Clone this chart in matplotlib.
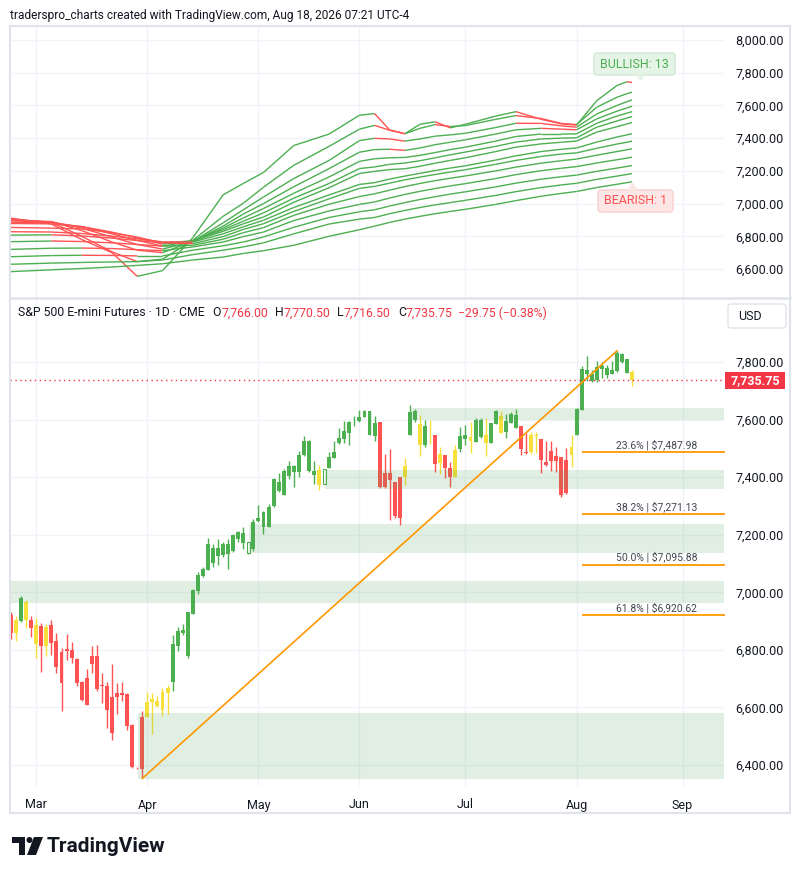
import matplotlib.pyplot as plt
import numpy as np
from matplotlib.collections import LineCollection
from matplotlib.patches import FancyBboxPatch, Polygon, Rectangle, Circle

plt.rcParams['font.family'] = ['Roboto', 'DejaVu Sans']

W, H = 800, 875
GREEN = '#4caf50'
RED = '#ff5252'
YELLOW = '#f7e03b'
TXT = '#131722'
GRID = '#f0f3fa'
TVRED = '#f23645'
ORANGE = '#ff9800'

# daily bars, Feb 23 .. Aug 18 2026 (bar index 0..123)
opens = [6922, 6858, 6899, 6965, 6903, 6887, 6883, 6814, 6885, 6829,
         6794, 6803, 6798, 6769, 6690, 6701, 6777, 6778, 6678, 6676,
         6635, 6649, 6649, 6646, 6539, 6390, 6568, 6565, 6618, 6605,
         6591, 6649, 6688, 6814, 6858, 6777, 6925, 7005, 7058, 7079,
         7102, 7125, 7128, 7133, 7142, 7186, 7171, 7136, 7152, 7249,
         7226, 7227, 7299, 7353, 7339, 7405, 7417, 7418, 7476, 7421,
         7409, 7426, 7377, 7432, 7467, 7519, 7534, 7554, 7590, 7594,
         7609, 7548, 7542, 7592, 7415, 7415, 7383, 7401, 7400, 7545,
         7600, 7585, 7511, 7548, 7545, 7450, 7478, 7430, 7400, 7496,
         7533, 7540, 7523, 7540, 7548, 7517, 7585, 7612, 7557, 7589,
         7569, 7577, 7488, 7488, 7546, 7534, 7453, 7490, 7473, 7469,
         7460, 7476, 7548, 7633, 7757, 7734, 7736, 7774, 7754, 7757,
         7768, 7801, 7763, 7766]
highs = [6933, 6919, 6988, 6972, 6916, 6912, 6892, 6890, 6904, 6858,
         6806, 6855, 6827, 6773, 6692, 6733, 6813, 6816, 6721, 6688,
         6750, 6684, 6688, 6649, 6541, 6392, 6586, 6655, 6649, 6641,
         6667, 6678, 6850, 6878, 6889, 6931, 7011, 7069, 7088, 7189,
         7166, 7185, 7174, 7185, 7204, 7214, 7227, 7175, 7255, 7302,
         7281, 7307, 7397, 7415, 7429, 7455, 7441, 7490, 7542, 7528,
         7455, 7441, 7429, 7488, 7525, 7571, 7594, 7594, 7612, 7633,
         7634, 7630, 7612, 7592, 7481, 7496, 7383, 7401, 7465, 7651,
         7638, 7615, 7598, 7600, 7548, 7505, 7478, 7452, 7510, 7573,
         7582, 7592, 7606, 7606, 7606, 7589, 7632, 7629, 7618, 7627,
         7635, 7577, 7554, 7556, 7556, 7534, 7525, 7527, 7504, 7469,
         7502, 7545, 7641, 7786, 7820, 7772, 7803, 7801, 7789, 7803,
         7838.5, 7832, 7812, 7770.5]
lows = [6837, 6831, 6896, 6875, 6844, 6771, 6722, 6779, 6783, 6719,
        6588, 6765, 6755, 6675, 6624, 6607, 6719, 6657, 6615, 6530,
        6487, 6576, 6623, 6522, 6391, 6386, 6353.25, 6565, 6508, 6603,
        6571, 6577, 6657, 6797, 6850, 6771, 6925, 6995, 7052, 7079,
        7088, 7096, 7123, 7082, 7140, 7175, 7152, 7133, 7142, 7244,
        7204, 7227, 7295, 7349, 7339, 7394, 7366, 7401, 7473, 7418,
        7377, 7357, 7377, 7432, 7467, 7516, 7517, 7511, 7577, 7591,
        7609, 7546, 7527, 7363, 7363, 7252, 7258, 7235, 7371, 7545,
        7590, 7475, 7505, 7516, 7418, 7412, 7397, 7364, 7400, 7486,
        7511, 7485, 7523, 7535, 7473, 7517, 7585, 7552, 7537, 7589,
        7569, 7476, 7481, 7479, 7484, 7415, 7438, 7421, 7418, 7330,
        7340, 7436, 7546, 7633, 7734, 7731, 7730, 7745, 7745, 7757,
        7765, 7797, 7763, 7716.5]
closes = [6858, 6904, 6980, 6904, 6875, 6820, 6814, 6881, 6823, 6740,
          6684, 6797, 6771, 6684, 6626, 6609, 6750, 6663, 6675, 6591,
          6510, 6635, 6644, 6536, 6394, 6388, 6386, 6620, 6628, 6624,
          6652, 6667, 6820, 6866, 6870, 6931, 7007, 7061, 7081, 7168,
          7154, 7154, 7168, 7166, 7200, 7210, 7206, 7175, 7244, 7258,
          7279, 7295, 7392, 7383, 7423, 7438, 7438, 7476, 7525, 7525,
          7423, 7374, 7429, 7469, 7488, 7536, 7560, 7591, 7593, 7609,
          7630, 7630, 7589, 7366, 7366, 7390, 7266, 7258, 7438, 7627,
          7629, 7510, 7579, 7545, 7447, 7481, 7432, 7400, 7494, 7542,
          7546, 7524, 7600, 7600, 7517, 7589, 7629, 7554, 7594, 7620,
          7615, 7496, 7485, 7545, 7542, 7459, 7441, 7455, 7455, 7339,
          7345, 7505, 7635, 7774, 7772, 7759, 7782, 7786, 7778, 7771,
          7832, 7829, 7809, 7735.75]
# candle colour from the chart's indicator: g green, r red, y yellow, h hollow green
kinds = ("rygyryry" + "r" * 19 + "y" * 5 + "g" * 15 + "h" + "g" * 13 + "y" + "h"
         + "g" * 10 + "r" * 5 + "yggygyryrryggyggyggyggg" + "rryy" + "r" * 6 + "y"
         + "g" * 11 + "y")

month_idx = [5, 27, 49, 69, 90, 112, 133]
month_labels = ['Mar', 'Apr', 'May', 'Jun', 'Jul', 'Aug', 'Sep']

# shaded zones: (first bar, low, high)
zones = [(79.4, 7598, 7640), (62.2, 7360, 7425), (47.2, 7137, 7238),
         (-1, 6962, 7040), (25.2, 6350, 6582)]

swing_low = (26, 6353.25)
swing_high = (120, 7838.5)
fib_ratios = ['23.6%', '38.2%', '50.0%', '61.8%']
fib_prices = [7487.98, 7271.13, 7095.88, 6920.62]
last_price = 7735.75

# moving-average ribbon (upper pane), read at these bars
ribbon_x = [0, 8, 14, 20, 25, 30, 36, 42, 46, 50, 56, 63, 69, 72, 75, 78, 81, 84,
            87, 90, 96, 100, 105, 109, 112, 116, 120, 122, 123]
ribbon = [
    [6911, 6875, 6780, 6700, 6555, 6590, 6791, 7053, 7123, 7190, 7355, 7425, 7540, 7550, 7450,
     7427, 7485, 7500, 7463, 7485, 7535, 7562, 7515, 7487, 7480, 7629, 7722, 7745, 7740],
    [6905, 6885, 6800, 6705, 6645, 6660, 6775, 6922, 7002, 7100, 7234, 7350, 7455, 7478, 7448,
     7427, 7460, 7483, 7471, 7477, 7515, 7538, 7520, 7490, 7483, 7589, 7650, 7672, 7681],
    [6900, 6890, 6835, 6765, 6715, 6700, 6768, 6882, 6962, 7040, 7153, 7264, 7385, 7399, 7395,
     7382, 7395, 7412, 7420, 7430, 7465, 7491, 7490, 7475, 7467, 7548, 7600, 7623, 7634],
    [6894, 6888, 6850, 6795, 6750, 6722, 6768, 6862, 6936, 7000, 7103, 7214, 7314, 7330, 7332,
     7325, 7340, 7360, 7375, 7390, 7425, 7451, 7460, 7455, 7451, 7518, 7565, 7585, 7595],
    [6886, 6884, 6858, 6815, 6775, 6740, 6770, 6850, 6912, 6970, 7063, 7163, 7258, 7274, 7280,
     7282, 7295, 7312, 7330, 7345, 7382, 7410, 7425, 7425, 7426, 7491, 7535, 7553, 7562],
    [6878, 6876, 6860, 6825, 6790, 6752, 6772, 6840, 6892, 6943, 7033, 7123, 7214, 7224, 7240,
     7248, 7262, 7280, 7298, 7315, 7350, 7376, 7395, 7400, 7402, 7467, 7505, 7523, 7532],
    [6854, 6850, 6845, 6822, 6795, 6760, 6772, 6830, 6876, 6918, 7008, 7097, 7184, 7197, 7208,
     7213, 7228, 7247, 7264, 7280, 7318, 7345, 7365, 7375, 7382, 7437, 7470, 7487, 7495],
    [6828, 6826, 6817, 6801, 6784, 6766, 6765, 6815, 6858, 6898, 6976, 7053, 7117, 7128, 7150,
     7168, 7185, 7202, 7217, 7231, 7266, 7292, 7318, 7332, 7340, 7376, 7407, 7420, 7427],
    [6807, 6809, 6802, 6789, 6774, 6760, 6755, 6798, 6842, 6877, 6952, 7029, 7093, 7105, 7125,
     7145, 7162, 7178, 7193, 7207, 7240, 7264, 7288, 7303, 7310, 7338, 7364, 7375, 7382],
    [6767, 6771, 6768, 6760, 6750, 6740, 6745, 6782, 6822, 6853, 6928, 6996, 7043, 7060, 7082,
     7104, 7123, 7140, 7155, 7169, 7200, 7223, 7247, 7262, 7272, 7296, 7318, 7329, 7335],
    [6720, 6727, 6728, 6725, 6718, 6712, 6735, 6765, 6798, 6826, 6896, 6955, 6995, 7010, 7034,
     7056, 7075, 7092, 7108, 7122, 7153, 7177, 7201, 7216, 7226, 7248, 7268, 7278, 7284],
    [6675, 6682, 6684, 6683, 6680, 6680, 6715, 6742, 6765, 6796, 6855, 6915, 6950, 6962, 6985,
     7006, 7025, 7042, 7058, 7072, 7102, 7125, 7149, 7164, 7174, 7197, 7217, 7227, 7232],
    [6629, 6636, 6640, 6643, 6645, 6655, 6688, 6715, 6735, 6760, 6815, 6875, 6905, 6915, 6938,
     6958, 6976, 6992, 7006, 7020, 7050, 7073, 7098, 7114, 7124, 7148, 7168, 7178, 7183],
    [6584, 6595, 6603, 6612, 6622, 6632, 6655, 6673, 6695, 6712, 6745, 6800, 6840, 6862, 6885,
     6905, 6922, 6938, 6952, 6965, 6995, 7018, 7045, 7062, 7074, 7098, 7118, 7128, 7133],
]


def box(l, t, r, b):
    return [l / W, 1 - b / H, (r - l) / W, (b - t) / H]


fig = plt.figure(figsize=(W / 100, H / 100), dpi=100)
fig.patch.set_facecolor('white')

ax_top = fig.add_axes(box(10, 27, 724, 297))
ax = fig.add_axes(box(10, 298, 724, 786))

for a, yt in ((ax_top, np.arange(6600, 8001, 200)), (ax, np.arange(6400, 7801, 200))):
    a.set_xlim(-0.2, 141.2)
    for s in a.spines.values():
        s.set_visible(False)
    for m in month_idx:
        a.axvline(m, color=GRID, lw=1, zorder=0)
    for p in yt:
        a.axhline(p, color=GRID, lw=1, zorder=0)
    a.yaxis.tick_right()
    a.set_yticks(yt)
    a.set_yticklabels([f'{p:,.2f}' for p in yt])
    a.tick_params(axis='y', length=0, pad=8, labelsize=9, labelcolor=TXT)

ax_top.set_ylim(6428.8, 8079.5)
ax.set_ylim(6327.0, 8022.3)
ax_top.set_xticks([])
ax.set_xticks(month_idx)
ax.set_xticklabels(month_labels)
ax.tick_params(axis='x', length=0, pad=9, labelsize=9, labelcolor=TXT)

# ribbon
for vals in ribbon:
    pts = np.column_stack([ribbon_x, vals])
    segs = np.stack([pts[:-1], pts[1:]], axis=1)
    cols = [GREEN if b >= a else RED for a, b in zip(vals[:-1], vals[1:])]
    ax_top.add_collection(LineCollection(segs, colors=cols, linewidths=1.0, zorder=3))

# candles
cmap = {'g': GREEN, 'r': RED, 'y': YELLOW, 'h': GREEN}
idx = np.arange(len(closes))
o, c = np.array(opens), np.array(closes)
colors = [cmap[k] for k in kinds]
ax.vlines(idx, lows, highs, colors=colors, lw=1.0, zorder=2)
bottoms = np.minimum(o, c)
heights = np.maximum(np.abs(c - o), 3)
for i in idx:
    if kinds[i] == 'h':
        ax.bar(i, heights[i], bottom=bottoms[i], width=0.62, facecolor='white',
               edgecolor=GREEN, lw=0.8, zorder=2.5)
    else:
        ax.bar(i, heights[i], bottom=bottoms[i], width=0.78, color=colors[i],
               lw=0, zorder=2.5)

# zones on top of candles
for start, lo, hi in zones:
    ax.add_patch(Rectangle((start, lo), 150, hi - lo, facecolor='#4a9e50',
                           alpha=0.16, lw=0, zorder=3))

# swing line and fib levels
ax.plot([swing_low[0], swing_high[0]], [swing_low[1], swing_high[1]],
        color=ORANGE, lw=1.2, zorder=4)
for r, p in zip(fib_ratios, fib_prices):
    ax.plot([113.2, 141.2], [p, p], color=ORANGE, lw=1.3, zorder=4, clip_on=False)
    ax.annotate(f'{r} | ${p:,.2f}', (135.9, p), xytext=(0, 1.5), textcoords='offset points',
                ha='right', va='bottom', fontsize=7.5, color='#434651', zorder=5)

ax.axhline(last_price, color=TVRED, lw=1, ls=(0, (1, 2.5)), zorder=4)

# overlay in pixel coordinates for the chart chrome
ov = fig.add_axes([0, 0, 1, 1], zorder=10)
ov.set_xlim(0, W)
ov.set_ylim(H, 0)
ov.axis('off')
ov.patch.set_alpha(0)

ov.add_patch(Rectangle((10, 26), 780, 787, fill=False, edgecolor='#e0e3eb', lw=1.5))
ov.plot([10, 790], [297.5, 297.5], color='#e0e3eb', lw=1.8)

fig.text(10 / W, 1 - 15 / H,
         'traderspro_charts created with TradingView.com, Aug 18, 2026 07:21 UTC-4',
         fontsize=8.6, color=TXT, va='center', ha='left')

# legend line of the price pane
renderer = fig.canvas.get_renderer()
parts = [('S&P 500 E-mini Futures · 1D · CME', TXT, 8), ('O', TXT, 0), ('7,766.00', TVRED, 7),
         ('H', TXT, 0), ('7,770.50', TVRED, 7), ('L', TXT, 0), ('7,716.50', TVRED, 7),
         ('C', TXT, 0), ('7,735.75', TVRED, 5), ('−29.75 (−0.38%)', TVRED, 0)]
x = 18
for s, col, gap in parts:
    t = fig.text(x / W, 1 - 313 / H, s, fontsize=8.8, color=col, va='center', ha='left')
    x += t.get_window_extent(renderer).width + gap

# USD button
ov.add_patch(FancyBboxPatch((728, 304), 58, 24, boxstyle='round,pad=0,rounding_size=3',
                            facecolor='white', edgecolor='#e0e3eb', lw=1))
ov.text(738, 316.5, 'USD', fontsize=9, color=TXT, va='center', ha='left')

# last price tag
ov.add_patch(Rectangle((725, 372), 60, 17, facecolor=TVRED, lw=0))
ov.text(755, 380.5, f'{last_price:,.2f}', fontsize=9, color='white', fontweight='bold',
        va='center', ha='center')

# ribbon count labels
ov.add_patch(FancyBboxPatch((594, 53), 81, 22, boxstyle='round,pad=0,rounding_size=3',
                            facecolor='#e6f4e7', edgecolor='#cfe8d0', lw=1))
ov.add_patch(Polygon([(634, 74.5), (646, 74.5), (641, 81)], closed=True,
                     facecolor='#e6f4e7', edgecolor='none'))
ov.text(634.5, 64, 'BULLISH: 13', fontsize=9, color=GREEN, va='center', ha='center')
ov.add_patch(FancyBboxPatch((598, 190), 75, 22, boxstyle='round,pad=0,rounding_size=3',
                            facecolor='#fde6e6', edgecolor='#f8d0d0', lw=1))
ov.add_patch(Polygon([(627, 190.5), (639, 190.5), (632, 182)], closed=True,
                     facecolor='#fde6e6', edgecolor='none'))
ov.text(635.5, 201, 'BEARISH: 1', fontsize=9, color=RED, va='center', ha='center')

# TradingView logo
ov.add_patch(Polygon([(12, 837), (25, 837), (25, 855), (19, 855), (19, 843), (12, 843)],
                     closed=True, facecolor=TXT, lw=0))
ov.add_patch(Circle((29.5, 840), 3, facecolor=TXT, lw=0))
ov.add_patch(Polygon([(34, 837), (43, 837), (36, 855), (27, 855)], closed=True,
                     facecolor=TXT, lw=0))
fig.text(47 / W, 1 - 846 / H, 'TradingView', fontsize=15, fontweight='bold', color=TXT,
         va='center', ha='left')

fig.savefig('out.png', dpi=100)
